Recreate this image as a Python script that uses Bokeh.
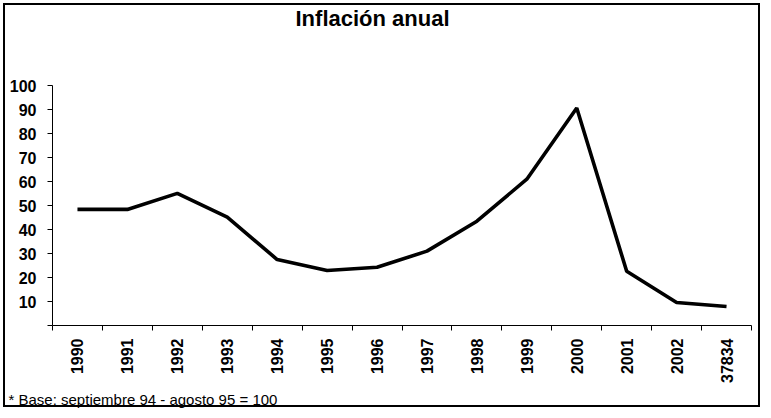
from bokeh.plotting import figure
from bokeh.models import FixedTicker, Title
from bokeh.embed import file_html
from bokeh.resources import INLINE

# ---- data ----
years = ["1990", "1991", "1992", "1993", "1994", "1995", "1996",
         "1997", "1998", "1999", "2000", "2001", "2002", "37834"]
inflation = [48.4, 48.4, 55.1, 45.2, 27.5, 22.9, 24.3,
             31.0, 43.5, 61.0, 90.7, 22.6, 9.6, 7.9]
y_ticks = [0, 10, 20, 30, 40, 50, 60, 70, 80, 90, 100]
title_text = "Inflación anual"
note_text = "* Base: septiembre 94 - agosto 95 = 100"

FONT = "Liberation Sans"
xs = list(range(len(years)))

p = figure(width=763, height=410, output_backend="svg", toolbar_location=None,
           x_range=(-0.5, len(years) - 0.5), y_range=(0, 123),
           min_border_left=52, min_border_right=12,
           min_border_top=30, min_border_bottom=10)
p.styles = {"box-shadow": "inset 0 0 0 3px white, inset 0 0 0 5px black",
            "background-color": "white"}
p.outline_line_color = None
p.xgrid.visible = False
p.ygrid.visible = False
p.background_fill_color = "white"
p.border_fill_color = None

p.line(xs, inflation, line_color="black", line_width=3.6)

# x axis: labels at category centres, ticks at category boundaries
xax = p.xaxis[0]
xax.ticker = FixedTicker(ticks=xs, minor_ticks=[i - 0.5 for i in range(len(years) + 1)])
xax.major_label_overrides = {i: y for i, y in enumerate(years)}
xax.major_tick_in = 0
xax.major_tick_out = 0
xax.minor_tick_in = 0
xax.minor_tick_out = 5
xax.minor_tick_line_color = "black"
xax.axis_line_color = "black"
xax.major_label_orientation = 3.14159265 / 2
xax.major_label_standoff = 8
xax.major_label_text_font = FONT
xax.major_label_text_font_style = "bold"
xax.major_label_text_font_size = "16px"
xax.major_label_text_color = "black"

yax = p.yaxis[0]
yax.ticker = FixedTicker(ticks=y_ticks)
yax.bounds = (0, 100)
yax.major_label_overrides = {0: ""}
yax.major_tick_in = 0
yax.major_tick_out = 5
yax.minor_tick_line_color = None
yax.axis_line_color = "black"
yax.major_tick_line_color = "black"
yax.major_label_standoff = 11
yax.major_label_text_font = FONT
yax.major_label_text_font_style = "bold"
yax.major_label_text_font_size = "16px"
yax.major_label_text_color = "black"

p.title = Title(text=title_text, align="left", offset=243, standoff=0,
                vertical_align="bottom",
                text_font=FONT, text_font_style="bold", text_font_size="22px",
                text_color="black")
p.add_layout(Title(text=note_text, align="left", offset=-44, standoff=6,
                   text_font=FONT, text_font_style="normal", text_font_size="15px",
                   text_color="black"), "below")

open("out.html", "w").write(file_html(p, INLINE))
